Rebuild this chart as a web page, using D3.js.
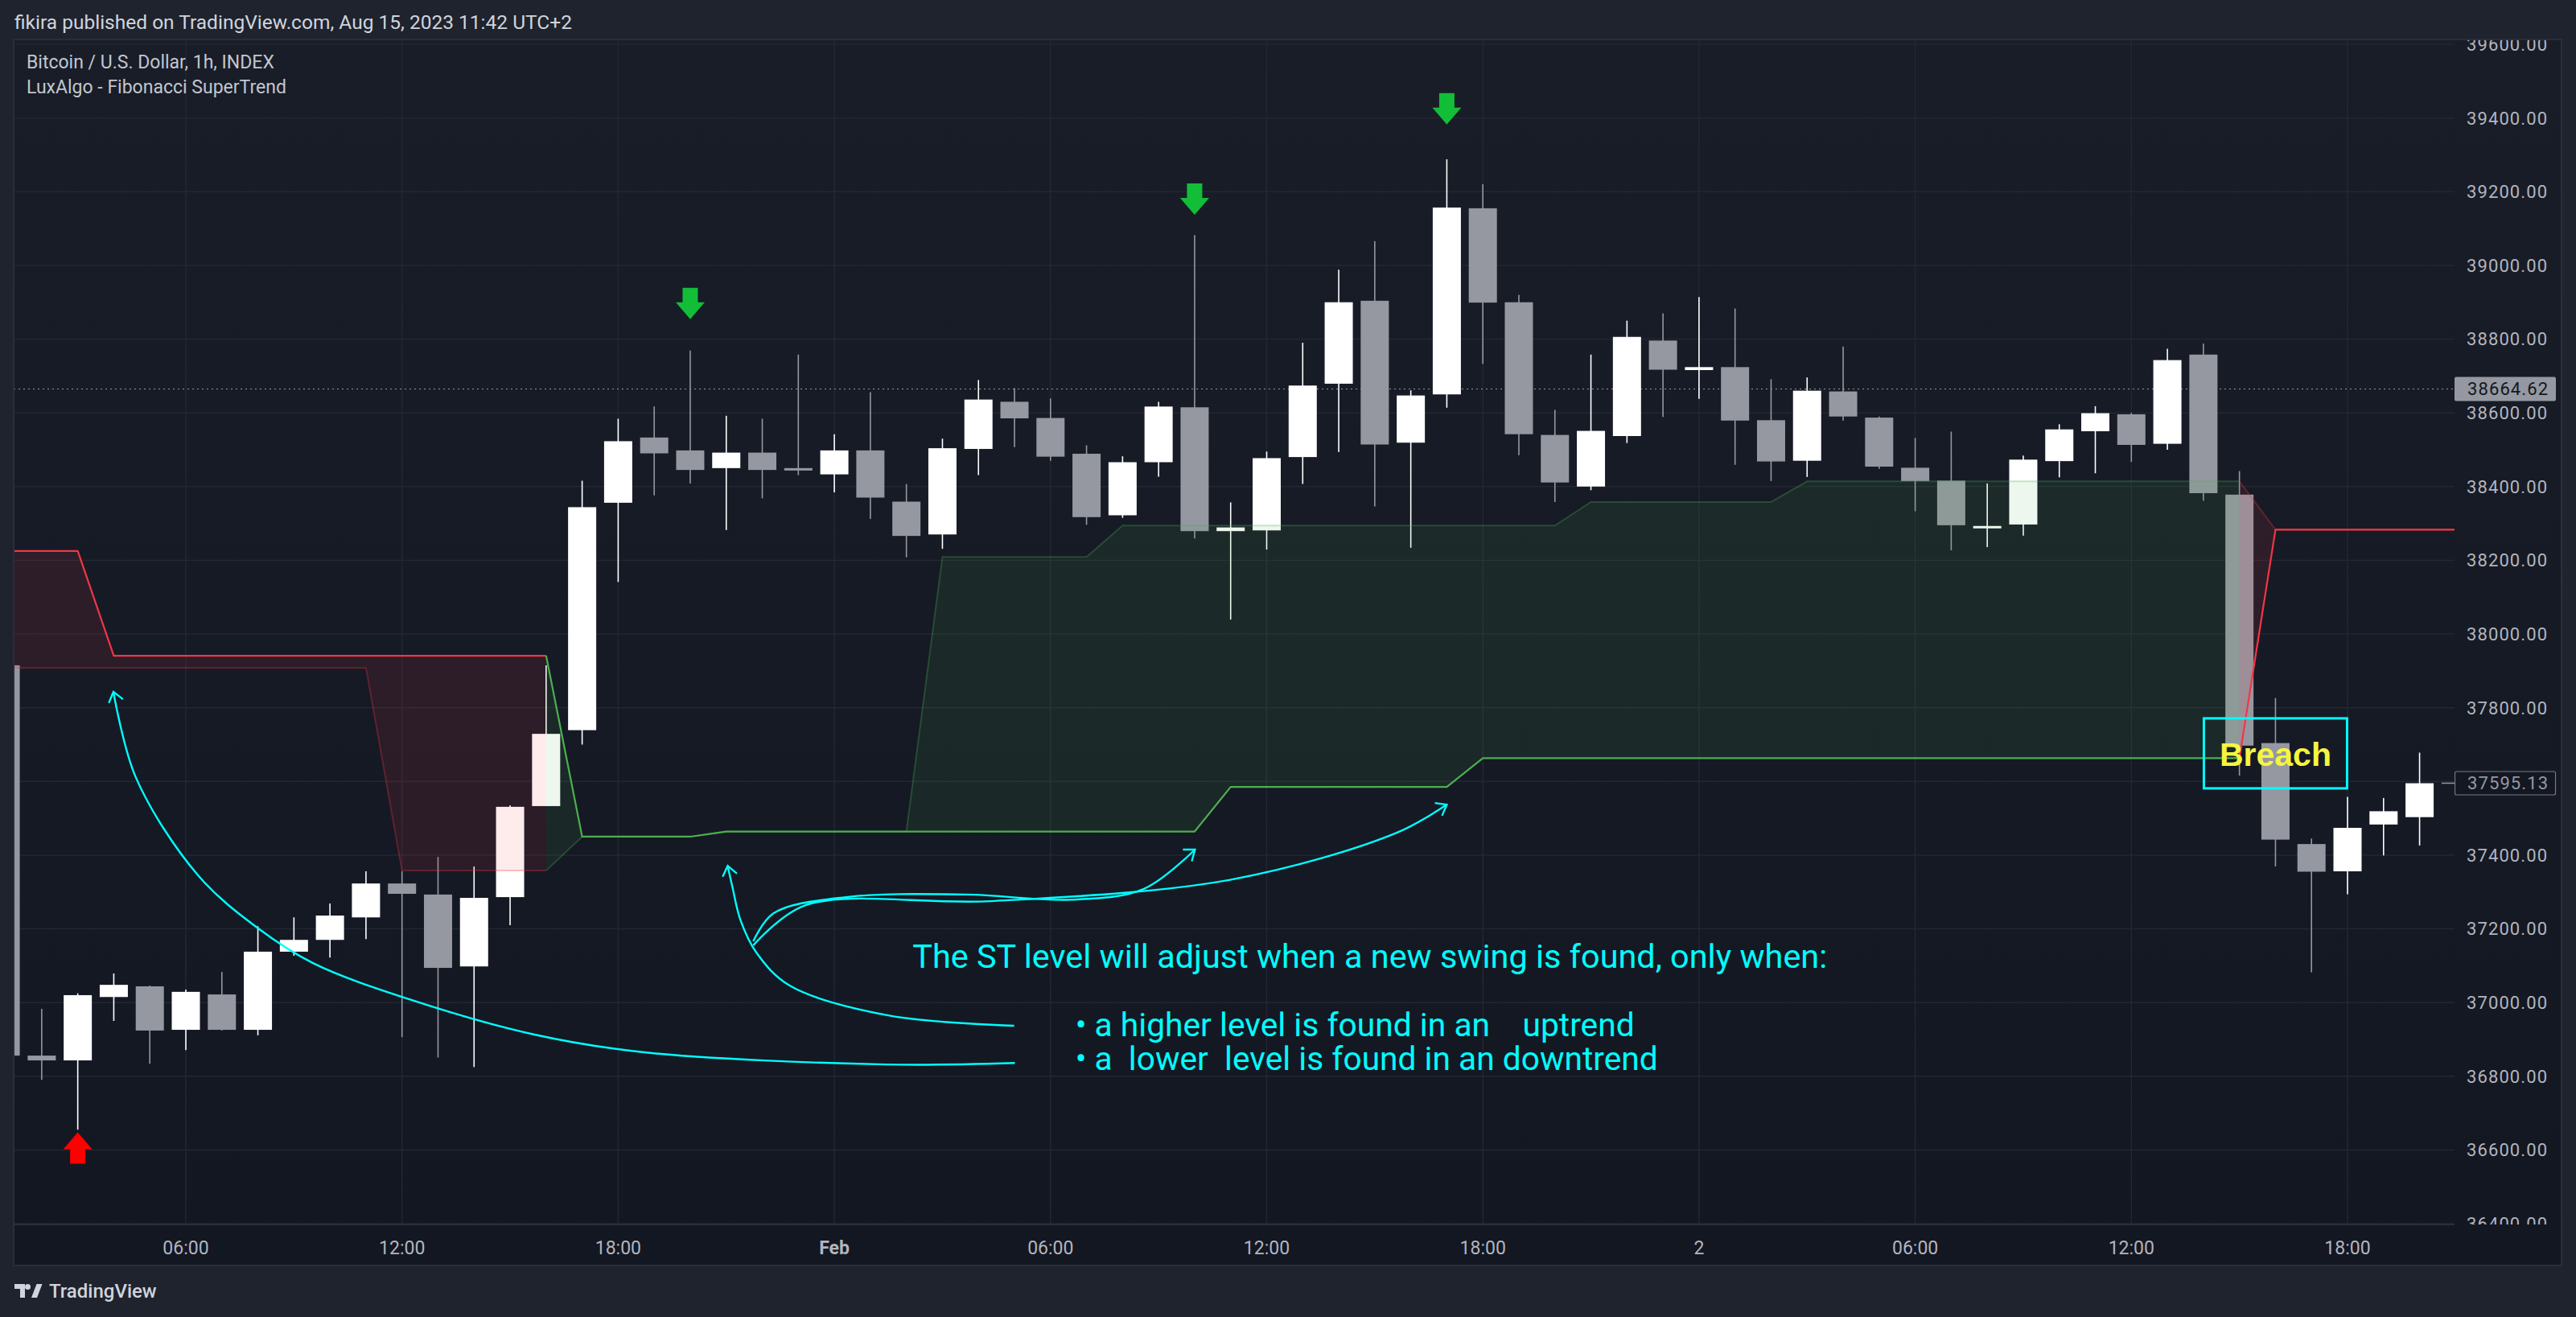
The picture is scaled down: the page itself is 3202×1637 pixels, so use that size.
<!DOCTYPE html>
<html>
<head>
<meta charset="utf-8">
<script src="https://cdn.jsdelivr.net/npm/d3@7"></script>
<style>
  body { margin: 0; background: #1f232e; }
  svg { display: block; font-family: Roboto, "Noto Sans", sans-serif; }
</style>
</head>
<body>
<svg id="chart" width="3202" height="1637"></svg>
<script>
// hourly bars, BTCUSD index, 31 Jan 01:00 -> 2 Feb 20:00 (2022)
const times = d3.timeHour.range(new Date(2022, 0, 31, 1), new Date(2022, 1, 2, 21));

const opens = [37915, 36856, 36843, 37015, 37044, 36926, 37022, 36926, 37138, 37170, 37231, 37323, 37293, 37098, 37286, 37533,
  37739, 38356, 38533, 38498, 38450, 38492, 38450, 38433, 38498, 38359, 38270, 38502, 38630, 38586, 38489, 38322, 38466, 38615,
  38279, 38281, 38480, 38679, 38904, 38519, 38650, 39155, 38900, 38540, 38400, 38537, 38796, 38716, 38724, 38580, 38470, 38658,
  38587, 38451, 38416, 38288, 38297, 38469, 38550, 38596, 38516, 38758, 38378, 37704, 37430, 37356, 37483, 37503];
const highs = [37920, 36983, 37025, 37079, 37046, 37035, 37083, 37207, 37231, 37269, 37356, 37356, 37395, 37369, 37535, 37915,
  38416, 38584, 38617, 38769, 38592, 38584, 38758, 38542, 38656, 38407, 38530, 38689, 38667, 38639, 38512, 38482, 38630, 39082,
  38357, 38495, 38790, 38988, 39066, 38661, 39288, 39220, 38920, 38608, 38758, 38850, 38870, 38914, 38883, 38691, 38696, 38780,
  38590, 38532, 38549, 38408, 38484, 38569, 38618, 38600, 38774, 38788, 38442, 37826, 37445, 37558, 37555, 37678];
const lows = [36850, 36790, 36655, 36950, 36834, 36871, 36924, 36911, 37127, 37122, 37172, 36906, 36851, 36825, 37210, 37533,
  37700, 38141, 38376, 38408, 38282, 38368, 38431, 38384, 38312, 38208, 38231, 38431, 38507, 38470, 38296, 38315, 38427, 38259,
  38039, 38229, 38407, 38494, 38346, 38234, 38614, 38733, 38485, 38358, 38390, 38518, 38589, 38638, 38459, 38415, 38426, 38579,
  38448, 38333, 38227, 38236, 38267, 38425, 38436, 38467, 38500, 38361, 37616, 37369, 37082, 37294, 37399, 37426];
const closes = [36856, 36843, 37020, 37048, 36924, 37029, 36926, 37138, 37170, 37236, 37323, 37295, 37094, 37284, 37531, 37729,
  38344, 38523, 38490, 38445, 38492, 38445, 38444, 38498, 38370, 38266, 38504, 38636, 38585, 38481, 38317, 38466, 38617, 38279,
  38289, 38477, 38674, 38900, 38514, 38647, 39157, 38899, 38542, 38411, 38551, 38806, 38717, 38724, 38579, 38468, 38660, 38590,
  38454, 38415, 38295, 38293, 38473, 38555, 38599, 38513, 38743, 38382, 37697, 37442, 37355, 37474, 37519, 37595];

// Fibonacci SuperTrend: trailing level, opposite level, direction
const stLevel = [38225, 38225, 38225, 37941, 37941, 37941, 37941, 37941, 37941, 37941, 37941, 37941, 37941, 37941, 37941, 37941,
  37450, 37450, 37450, 37450, 37464, 37464, 37464, 37464, 37464, 37464, 37464, 37464, 37464, 37464, 37464, 37464, 37464, 37464,
  37585, 37585, 37585, 37585, 37585, 37585, 37585, 37663, 37663, 37663, 37663, 37663, 37663, 37663, 37663, 37663, 37663, 37663,
  37663, 37663, 37663, 37663, 37663, 37663, 37663, 37663, 37663, 37663, 37663, 38283, 38283, 38283, 38283, 38283];
const otherLevel = [37908, 37908, 37908, 37908, 37908, 37908, 37908, 37908, 37908, 37908, 37908, 37358, 37358, 37358, 37358, 37358,
  37450, 37450, 37450, 37450, 37464, 37464, 37464, 37464, 37464, 37464, 38209, 38209, 38209, 38209, 38209, 38294, 38294, 38294,
  38294, 38294, 38294, 38294, 38294, 38294, 38294, 38294, 38294, 38294, 38358, 38358, 38358, 38358, 38358, 38358, 38414, 38414,
  38414, 38414, 38414, 38414, 38414, 38414, 38414, 38414, 38414, 38414, 38414, 38283, 38283, 38283, 38283, 38283];
const trend = [-1, -1, -1, -1, -1, -1, -1, -1, -1, -1, -1, -1, -1, -1, -1, -1,
  1, 1, 1, 1, 1, 1, 1, 1, 1, 1, 1, 1, 1, 1, 1, 1, 1, 1, 1, 1, 1, 1, 1, 1, 1, 1, 1, 1, 1, 1, 1, 1, 1, 1, 1, 1,
  1, 1, 1, 1, 1, 1, 1, 1, 1, 1, 1, -1, -1, -1, -1, -1];

// signal arrows: bar index + price of the arrow tip
const sellSignals = [{ bar: 19, price: 38854 }, { bar: 33, price: 39137 }, { bar: 40, price: 39382 }];
const buySignals = [{ bar: 2, price: 36648 }];

const priceTicks = [36400, 36600, 36800, 37000, 37200, 37400, 37600, 37800, 38000, 38200, 38400, 38600, 38800, 39000, 39200, 39400, 39600];
const timeTicks = [new Date(2022, 0, 31, 6), new Date(2022, 0, 31, 12), new Date(2022, 0, 31, 18), new Date(2022, 1, 1, 0),
  new Date(2022, 1, 1, 6), new Date(2022, 1, 1, 12), new Date(2022, 1, 1, 18), new Date(2022, 1, 2, 0),
  new Date(2022, 1, 2, 6), new Date(2022, 1, 2, 12), new Date(2022, 1, 2, 18)];
const timeLabels = ["06:00", "12:00", "18:00", "Feb", "06:00", "12:00", "18:00", "2", "06:00", "12:00", "18:00"];

const markedPrice = 38664.62;
const lastPrice = 37595.13;

// hand drawn notes, [hours after first bar, price]
const noteCurveA = [[28.01, 36836], [24.44, 36832], [17.73, 36865], [14.68, 36913], [11.26, 37007], [8.53, 37107], [7.01, 37201], [5.34, 37345], [3.62, 37609], [2.99, 37843]];
const noteCurveB = [[27.99, 36937], [24.50, 36965], [21.76, 37046], [20.84, 37135], [20.39, 37225], [20.17, 37314], [20.04, 37371]];
const noteCurveC = [[20.75, 37166], [21.31, 37242], [23.32, 37286], [26.67, 37293], [29.57, 37279], [31.58, 37308], [33.01, 37415]];
const noteCurveD = [[20.75, 37155], [22.20, 37264], [27.34, 37275], [34.04, 37334], [38.62, 37461], [40.0, 37537]];
const noteLines = ["The ST level will adjust when a new swing is found, only when:",
  "\u2022 a higher level is found in an    uptrend",
  "\u2022 a  lower  level is found in an downtrend"];
const noteAnchors = [[25.17, 37094], [29.69, 36908], [29.69, 36817]];
const breachNote = { text: "Breach", bar: 63, price: 37675 };

(function() {
    const plot = { left: 17, top: 49, right: 3051, bottom: 1522 };
    const frame = { left: 17, top: 49, right: 3184, bottom: 1573 };
    const upColor = "#4caf50", downColor = "#f23645";
    const bullColor = "#ffffff", bearColor = "#9598a1";
    const noteColor = "#00ffff";

    const svg = d3.select("#chart");

    const x = d3.scaleTime()
        .domain([new Date(2022, 0, 31, 6), new Date(2022, 1, 2, 18)])
        .range([231, 2918]);
    const y = d3.scaleLinear().domain([36400, 39600]).range([1521, 55]);
    const xh = h => x(new Date(times[0].getTime() + h * 3600e3));

    const defs = svg.append("defs");
    const grad = defs.append("linearGradient").attr("id", "bg").attr("x1", 0).attr("x2", 0).attr("y1", 0).attr("y2", 1);
    grad.append("stop").attr("offset", 0).attr("stop-color", "#191d28");
    grad.append("stop").attr("offset", 1).attr("stop-color", "#131722");
    defs.append("clipPath").attr("id", "plotClip").append("rect")
        .attr("x", plot.left).attr("y", plot.top)
        .attr("width", plot.right - plot.left).attr("height", plot.bottom - plot.top);
    defs.append("clipPath").attr("id", "axisClip").append("rect")
        .attr("x", plot.right).attr("y", plot.top)
        .attr("width", frame.right - plot.right).attr("height", plot.bottom - plot.top);

    svg.append("rect").attr("width", 3202).attr("height", 1637).attr("fill", "#1f232e");
    svg.append("rect")
        .attr("x", frame.left).attr("y", frame.top)
        .attr("width", frame.right - frame.left).attr("height", frame.bottom - frame.top)
        .attr("fill", "url(#bg)");

    // header
    svg.append("text").attr("x", 18).attr("y", 36)
        .attr("fill", "#d1d4dc").attr("font-size", 24.5)
        .text("fikira published on TradingView.com, Aug 15, 2023 11:42 UTC+2");

    // grid
    const grid = svg.append("g").attr("clip-path", "url(#plotClip)");
    grid.selectAll("line.h").data(priceTicks).enter().append("line")
        .attr("x1", plot.left).attr("x2", plot.right)
        .attr("y1", d => y(d)).attr("y2", d => y(d))
        .attr("stroke", "#232733").attr("stroke-width", 1.5);
    grid.selectAll("line.v").data(timeTicks).enter().append("line")
        .attr("x1", d => x(d)).attr("x2", d => x(d))
        .attr("y1", plot.top).attr("y2", plot.bottom)
        .attr("stroke", "#232733").attr("stroke-width", 1.5);

    const legend = svg.append("g").attr("fill", "#c3c6ce").attr("font-size", 23);
    legend.append("text").attr("x", 33).attr("y", 85).text("Bitcoin / U.S. Dollar, 1h, INDEX");
    legend.append("text").attr("x", 33).attr("y", 116).text("LuxAlgo - Fibonacci SuperTrend");

    const chart = svg.append("g").attr("clip-path", "url(#plotClip)");

    // dotted price line
    chart.append("line")
        .attr("x1", plot.left).attr("x2", plot.right)
        .attr("y1", y(markedPrice)).attr("y2", y(markedPrice))
        .attr("stroke", "#9598a1").attr("stroke-width", 1.2)
        .attr("stroke-dasharray", "2,4");

    // candles
    const bars = times.map((t, i) => ({ t, o: opens[i], h: highs[i], l: lows[i], c: closes[i] }));
    const bodyW = 35;
    const candle = chart.append("g").selectAll("g").data(bars).enter().append("g");
    candle.append("line")
        .attr("x1", d => x(d.t)).attr("x2", d => x(d.t))
        .attr("y1", d => y(d.h)).attr("y2", d => y(d.l))
        .attr("stroke", d => d.c >= d.o ? bullColor : bearColor)
        .attr("stroke-width", 1.6);
    candle.append("rect")
        .attr("x", d => x(d.t) - bodyW / 2)
        .attr("width", bodyW)
        .attr("y", d => y(Math.max(d.o, d.c)))
        .attr("height", d => Math.max(3, Math.abs(y(d.o) - y(d.c))))
        .attr("fill", d => d.c >= d.o ? bullColor : bearColor);

    // supertrend band, split into runs of the same direction
    const pts = times.map((t, i) => ({ x: x(t), st: stLevel[i], other: otherLevel[i], dir: trend[i] }));
    const lastIdx = times.length - 1;
    pts.push({ x: x(d3.timeHour.offset(times[lastIdx], 1)), st: stLevel[lastIdx], other: otherLevel[lastIdx], dir: trend[lastIdx] });

    const runs = [];
    for (let k = 0; k < pts.length - 1; k++) {
        const dir = pts[k + 1].dir;
        const run = runs[runs.length - 1];
        if (run && run.dir === dir) run.pts.push(pts[k + 1]);
        else runs.push({ dir, pts: [pts[k], pts[k + 1]] });
    }

    const area = d3.area().x(d => d.x).y0(d => y(d.other)).y1(d => y(d.st));
    const stLine = d3.line().x(d => d.x).y(d => y(d.st));
    const otherLine = d3.line().x(d => d.x).y(d => y(d.other));

    runs.forEach(r => {
        const col = r.dir > 0 ? upColor : downColor;
        chart.append("path").datum(r.pts).attr("d", area)
            .attr("fill", col).attr("fill-opacity", 0.1);
        chart.append("path").datum(r.pts).attr("d", otherLine)
            .attr("fill", "none").attr("stroke", col).attr("stroke-opacity", 0.3).attr("stroke-width", 2);
    });
    runs.forEach(r => {
        chart.append("path").datum(r.pts).attr("d", stLine)
            .attr("fill", "none").attr("stroke", r.dir > 0 ? upColor : downColor)
            .attr("stroke-width", 2.2).attr("stroke-linejoin", "round");
    });

    // signal arrows
    const arrow = (cx, tipY, down) => {
        const s = down ? -1 : 1;
        const p = d3.path();
        p.moveTo(cx, tipY);
        p.lineTo(cx + 18, tipY + s * 21);
        p.lineTo(cx + 9.5, tipY + s * 21);
        p.lineTo(cx + 9.5, tipY + s * 39);
        p.lineTo(cx - 9.5, tipY + s * 39);
        p.lineTo(cx - 9.5, tipY + s * 21);
        p.lineTo(cx - 18, tipY + s * 21);
        p.closePath();
        return p.toString();
    };
    chart.selectAll("path.sell").data(sellSignals).enter().append("path")
        .attr("d", d => arrow(x(times[d.bar]), y(d.price), true))
        .attr("fill", "#12bd38");
    chart.selectAll("path.buy").data(buySignals).enter().append("path")
        .attr("d", d => arrow(x(times[d.bar]), y(d.price), false))
        .attr("fill", "#ff0000");

    // notes
    const noteLine = d3.line().x(d => xh(d[0])).y(d => y(d[1])).curve(d3.curveCatmullRom.alpha(0.5));
    [noteCurveA, noteCurveB, noteCurveC, noteCurveD].forEach(c => {
        chart.append("path").datum(c).attr("d", noteLine)
            .attr("fill", "none").attr("stroke", noteColor).attr("stroke-width", 2.4);
        const tip = c[c.length - 1], prev = c[c.length - 2];
        const tx = xh(tip[0]), ty = y(tip[1]);
        const ang = Math.atan2(ty - y(prev[1]), tx - xh(prev[0]));
        const a1 = ang + Math.PI - 0.65, a2 = ang + Math.PI + 0.65;
        chart.append("path")
            .attr("d", `M${tx + 15 * Math.cos(a1)},${ty + 15 * Math.sin(a1)}L${tx},${ty}L${tx + 15 * Math.cos(a2)},${ty + 15 * Math.sin(a2)}`)
            .attr("fill", "none").attr("stroke", noteColor).attr("stroke-width", 2.4);
    });
    const noteWidths = [1137, 695, 724];
    noteLines.forEach((s, i) => {
        chart.append("text")
            .attr("x", xh(noteAnchors[i][0])).attr("y", y(noteAnchors[i][1]))
            .attr("fill", noteColor).attr("font-size", 40)
            .style("white-space", "pre")
            .attr("textLength", noteWidths[i]).attr("lengthAdjust", "spacingAndGlyphs")
            .text(s);
    });

    const bx = x(times[breachNote.bar]), by = y(breachNote.price);
    chart.append("rect")
        .attr("x", bx - 89).attr("y", by - 44).attr("width", 178).attr("height", 87)
        .attr("fill", "none").attr("stroke", noteColor).attr("stroke-width", 3);
    chart.append("text")
        .attr("x", bx).attr("y", by + 15)
        .attr("text-anchor", "middle")
        .attr("font-family", "'Liberation Sans', Arial, sans-serif")
        .attr("font-weight", "bold").attr("font-size", 41)
        .attr("fill", "#f5f53f")
        .text(breachNote.text);

    // price axis
    const axisG = svg.append("g").attr("clip-path", "url(#axisClip)");
    axisG.selectAll("text").data(priceTicks).enter().append("text")
        .attr("x", 3066).attr("y", d => y(d)).attr("dy", "0.36em")
        .attr("fill", "#b2b5be").attr("font-size", 22).attr("letter-spacing", 1.1)
        .text(d => d3.format(".2f")(d));

    axisG.append("rect")
        .attr("x", plot.right).attr("y", y(markedPrice) - 15)
        .attr("width", 126).attr("height", 30).attr("rx", 2)
        .attr("fill", "#9598a1");
    axisG.append("text")
        .attr("x", 3067).attr("y", y(markedPrice)).attr("dy", "0.36em")
        .attr("fill", "#131722").attr("font-size", 22).attr("letter-spacing", 1.1)
        .text(d3.format(".2f")(markedPrice));

    svg.append("line")
        .attr("x1", 3035).attr("x2", plot.right)
        .attr("y1", y(lastPrice)).attr("y2", y(lastPrice))
        .attr("stroke", "#9598a1").attr("stroke-width", 1.5);
    axisG.append("rect")
        .attr("x", plot.right + 0.5).attr("y", y(lastPrice) - 14.5)
        .attr("width", 125).attr("height", 29).attr("rx", 2)
        .attr("fill", "#131722").attr("stroke", "#787b86").attr("stroke-width", 1.2);
    axisG.append("text")
        .attr("x", 3067).attr("y", y(lastPrice)).attr("dy", "0.36em")
        .attr("fill", "#9598a1").attr("font-size", 22).attr("letter-spacing", 1.1)
        .text(d3.format(".2f")(lastPrice));

    // time axis
    svg.append("line")
        .attr("x1", plot.left).attr("x2", plot.right)
        .attr("y1", plot.bottom).attr("y2", plot.bottom)
        .attr("stroke", "#2a2e39").attr("stroke-width", 2);
    svg.append("g").selectAll("text").data(timeTicks).enter().append("text")
        .attr("x", d => x(d)).attr("y", 1559)
        .attr("text-anchor", "middle")
        .attr("fill", "#b2b5be").attr("font-size", 23)
        .attr("font-weight", (d, i) => timeLabels[i] === "Feb" ? "bold" : "normal")
        .text((d, i) => timeLabels[i]);

    // frame
    svg.append("rect")
        .attr("x", frame.left).attr("y", frame.top)
        .attr("width", frame.right - frame.left).attr("height", frame.bottom - frame.top)
        .attr("fill", "none").attr("stroke", "#2a2e39").attr("stroke-width", 2);

    // footer logo
    const logo = svg.append("g").attr("fill", "#d1d4dc");
    logo.append("path").attr("d", "M18,1596h13v17h-6v-11h-7z");
    logo.append("circle").attr("cx", 34.5).attr("cy", 1599.5).attr("r", 3.5);
    logo.append("path").attr("d", "M39,1613l6.5,-17h7l-6.5,17z");
    logo.append("text").attr("x", 61).attr("y", 1613)
        .attr("font-size", 24).attr("font-weight", 500).text("TradingView");
})();
</script>
</body>
</html>
